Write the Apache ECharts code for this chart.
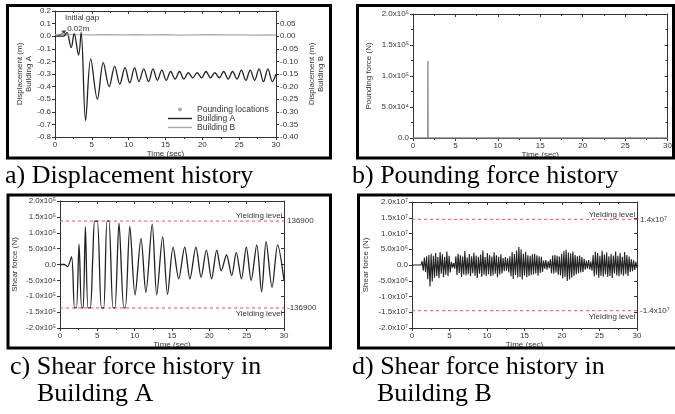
<!DOCTYPE html>
<html>
<head>
<meta charset="utf-8">
<script src="https://cdn.jsdelivr.net/npm/echarts@6/dist/echarts.min.js"></script>
<style>
html, body { margin: 0; padding: 0; background: #fff; }
#main { width: 675px; height: 414px; }
</style>
</head>
<body>
<div id="main"></div>
<script>
// a) displacement history (m)
var dispTime = [0, 1.2, 1.6, 2.2, 2.6, 3.2, 3.55, 4.15, 4.85, 5.75, 6.55, 7.35, 8.1, 8.8, 9.5, 10.15, 10.8, 11.4, 12.05, 12.7,
  13.3, 13.9, 14.5, 15.1, 15.7, 16.3, 16.9, 17.5, 18.1, 18.7, 19.3, 19.9, 20.5, 21.1, 21.7, 22.3, 22.9, 23.5, 24.1, 24.7,
  25.3, 25.9, 26.5, 27.1, 27.7, 28.3, 28.9, 29.5, 30];
var dispA = [0, 0, 0.03, -0.09, 0.02, -0.15, 0.03, -0.67, -0.18, -0.50, -0.21, -0.40, -0.24, -0.38, -0.25, -0.37, -0.25, -0.36, -0.26, -0.36,
  -0.26, -0.35, -0.27, -0.35, -0.28, -0.34, -0.28, -0.34, -0.29, -0.33, -0.29, -0.33, -0.28, -0.33, -0.29, -0.33, -0.28, -0.34, -0.28, -0.34,
  -0.27, -0.35, -0.27, -0.35, -0.26, -0.36, -0.26, -0.36, -0.30];
var dispBTime = [0, 1.5, 3, 5, 7, 9, 11, 13, 15, 17, 19, 21, 23, 25, 27, 29, 30];
var dispB = [0.006, 0.007, 0.006, 0.005, 0.006, 0.005, 0.006, 0.005, 0.006, 0.004, 0.005, 0.006, 0.005, 0.005, 0.004, 0.005, 0.004];
var poundTime = [1.7];
var poundDisp = [0.007];

// b) pounding force history (N)
var forceTime = [0, 1.74, 1.76, 1.78, 30];
var poundForce = [0, 0, 124000, 0, 0];

// c) shear force in building A (N)
var shearATime = [0, 0.6, 1.0, 1.55, 1.95, 2.2, 2.55, 2.9, 3.1, 3.4, 3.75, 4.05, 4.4, 4.65, 5.0, 5.55, 5.85, 6.3, 6.55, 7.1,
  7.35, 7.9, 8.55, 8.75, 9.35, 10.05, 10.85, 11.5, 12.35, 12.95, 13.75, 14.4, 15.15, 15.9, 16.7, 17.4, 18.2, 18.9, 19.6, 20.3,
  21.0, 21.6, 22.3, 23.0, 23.6, 24.3, 24.95, 25.6, 26.35, 27.0, 27.6, 28.4, 29.15, 30];
var shearA = [0, 0, -7000, 25000, -136900, -136900, 64000, -136900, -136900, 119000, -136900, -136900, 28000, 136900, 136900, -136900, -136900, 136900, 136900, -136900,
  -136900, 130000, -136900, -136900, 120000, -96000, 82000, -88000, 127000, -96000, 88000, -94000, 55000, -45000, 55000, -45000, 55000, -40000, 45000, -45000,
  45000, -20000, 30000, -35000, 38000, -45000, 55000, -50000, 62000, -86000, 72000, -72000, 62000, -50000];
var yieldA = 136900;

// d) shear force in building B (x10^6 N), sampled every 0.15 s
var shearBStep = 0.15;
var shearB = [0, 0, 0, 0, 0, 0, 0, 0, 0,
  1.2, -1.8, 2.4, -2.2, 2.8,
  -4.5, 3.2, -6.8, 3.6, -5.2, 2.9, -4.0,
  3.8, -3.6, 2.5, -4.2, 4.1, -2.8, 3.4, -3.9, 2.6, -3.1, 4.3, -3.5, 2.9, -2.4,
  1.0, -0.8, 0.6, -1.2,
  2.8, -3.2, 3.6, -2.5, 3.1, -3.8, 2.7, -3.0, 4.4, -3.3, 2.4, -2.9, 3.5, -3.6, 2.8, -2.6, 3.9, -3.4, 3.0, -4.1,
  2.6, -2.8, 3.3, -3.7, 4.6, -3.1, 2.5, -3.5, 3.8, -2.9, 3.2, -3.6, 2.7, -3.3, 4.0, -2.8, 3.1, -3.9, 2.6, -3.0, 3.4, -2.7,
  2.2, -2.0, 2.5, -1.8, 2.1, -2.4, 2.8,
  -3.6, 4.1, -4.4, 3.5, -3.2, 4.6, -4.0, 5.7, -3.8, 4.9, -4.6, 3.6, -3.3, 4.2, -3.9, 3.1, -3.5, 2.9, -3.2,
  3.4, -3.0, 3.6, -2.7, 3.1, -3.4, 2.8, -2.5, 2.6, -2.2,
  1.4, -1.2, 1.6, -1.5, 1.2, -1.0, 1.8,
  -2.6, 3.0, -2.8, 3.2, -2.4, 2.9, -3.1, 2.7, -3.3,
  3.6, -4.2, 4.4, -3.8, 4.8, -5.1, 4.0, -4.6, 3.7, -4.0, 4.3, -3.5, 3.2, -3.0,
  2.8, -2.6, 3.0, -2.4, 2.5, -2.2, 2.0,
  -1.5, 1.3, -1.2, 1.6, -1.4, 1.1, -1.8,
  3.2, -3.6, 4.2, -3.1, 3.8, -4.0, 2.9, -3.4, 4.5, -3.7, 3.3, -3.0, 4.0, -3.8, 2.8, -3.5, 3.6, -4.1, 3.0, -2.7,
  4.3, -3.3, 2.9, -3.6, 3.8, -3.0, 2.6, -3.4, 4.1, -2.9, 3.2, -3.5, 2.7,
  -2.2, 1.8, -2.0, 1.5, -1.6, 1.0, -1.0];
var yieldB = 14.5;

var sans = 'Liberation Sans, Arial, sans-serif';
var serif = 'Liberation Serif, Times New Roman, serif';
var ink = '#333';
var yieldColor = '#e8506a';
var sup = { '4': '\u2074', '5': '\u2075', '6': '\u2076', '7': '\u2077' };

function sci(v) {
  if (Math.abs(v) < 1e-9) return '0.0';
  var e = Math.floor(Math.log10(Math.abs(v)) + 1e-9);
  var m = v / Math.pow(10, e);
  return m.toFixed(1) + 'x10' + sup[e];
}

function pairs(xs, ys) {
  return xs.map(function (x, i) { return [x, ys[i]]; });
}

function xMain(g) {
  return {
    type: 'value', gridIndex: g, position: 'bottom', min: 0, max: 30, interval: 5,
    axisLine: { show: true, onZero: false, lineStyle: { color: ink, width: 1 } },
    axisTick: { length: 3, lineStyle: { color: ink } },
    minorTick: { show: true, splitNumber: 2, length: 2, lineStyle: { color: ink } },
    splitLine: { show: false },
    axisLabel: { fontSize: 8, color: ink, margin: 4, fontFamily: sans },
    name: 'Time (sec)', nameLocation: 'middle', nameGap: 13,
    nameTextStyle: { fontSize: 8, color: ink, fontFamily: sans }
  };
}
function xMirror(g) {
  return {
    type: 'value', gridIndex: g, position: 'top', min: 0, max: 30, interval: 5,
    axisLine: { show: true, onZero: false, lineStyle: { color: ink } },
    axisTick: { inside: true, length: 3, lineStyle: { color: ink } },
    minorTick: { show: true, splitNumber: 2, length: 2, lineStyle: { color: ink } },
    splitLine: { show: false }, axisLabel: { show: false }
  };
}
function yMain(g, min, max, step, fmt, name, gap, minor) {
  return {
    type: 'value', gridIndex: g, position: 'left', min: min, max: max, interval: step,
    axisLine: { show: true, onZero: false, lineStyle: { color: ink } },
    axisTick: { show: true, length: 3, lineStyle: { color: ink } },
    minorTick: { show: minor, splitNumber: 2, length: 2, lineStyle: { color: ink } },
    splitLine: { show: false },
    axisLabel: { fontSize: 8, color: ink, margin: 4, fontFamily: sans, formatter: fmt },
    name: name, nameLocation: 'middle', nameGap: gap,
    nameTextStyle: { fontSize: 8, color: ink, fontFamily: sans, lineHeight: 9 }
  };
}
function yMirror(g, min, max, step, minor) {
  return {
    type: 'value', gridIndex: g, position: 'right', min: min, max: max, interval: step,
    axisLine: { show: true, onZero: false, lineStyle: { color: ink } },
    axisTick: { show: true, inside: true, length: 3, lineStyle: { color: ink } },
    minorTick: { show: minor, splitNumber: 2, length: 2, lineStyle: { color: ink } },
    splitLine: { show: false }, axisLabel: { show: false }
  };
}

var yRightA = yMain(0, -0.4, 0.1, 0.05, function (v) { return v > 0.07 ? '' : v.toFixed(2); },
  'Displacement (m)\nBuilding B', 31, false);
yRightA.position = 'right';
yRightA.nameRotate = 90;

var labelStyle = { fontSize: 8, color: ink, fontFamily: sans };

// dashed yielding level drawn as a plain two-point line, labels as markPoints at its ends
function yieldSeries(name, xi, yi, level, valueText, above) {
  return {
    name: name, type: 'line', xAxisIndex: xi, yAxisIndex: yi, silent: true,
    data: [[0, level], [30, level]], symbol: 'none',
    lineStyle: { color: yieldColor, type: [3, 3], width: 1 }, z: 1,
    markPoint: {
      silent: true, symbol: 'rect', symbolSize: 0,
      data: [
        { coord: [30, level], label: Object.assign({ show: true, position: 'right', distance: 3, formatter: valueText }, labelStyle) },
        { coord: [29.8, level], label: Object.assign({ show: true, position: [0, 0], align: 'right',
          verticalAlign: above ? 'bottom' : 'top', offset: [0, above ? -1 : 2], formatter: 'Yielding level' }, labelStyle) }
      ]
    }
  };
}

function box(x1, y1, x2, y2) {
  return { type: 'rect', shape: { x: x1, y: y1, width: x2 - x1, height: y2 - y1 },
    style: { fill: 'none', stroke: '#000', lineWidth: 3 }, z: 100 };
}
function caption(x, y, t) {
  return { type: 'text', x: x, y: y, style: { text: t, font: '26px ' + serif, fill: '#000', verticalAlign: 'middle' } };
}

var chart = echarts.init(document.getElementById('main'), null, { renderer: 'canvas' });
chart.setOption({
  animation: false,
  grid: [
    { left: 55, top: 11, width: 221, height: 126 },
    { left: 413, top: 14, width: 255, height: 124 },
    { left: 60, top: 201, width: 224, height: 127 },
    { left: 412, top: 202, width: 225, height: 126 }
  ],
  xAxis: [xMain(0), xMirror(0), xMain(1), xMirror(1), xMain(2), xMirror(2), xMain(3), xMirror(3)],
  yAxis: [
    yMain(0, -0.8, 0.2, 0.1, function (v) { return v.toFixed(1); }, 'Displacement (m)\nBuilding A', 21, false),
    yRightA,
    yMain(1, 0, 200000, 50000, sci, 'Pounding force (N)', 40, true),
    yMirror(1, 0, 200000, 50000, true),
    yMain(2, -200000, 200000, 50000, sci, 'Shear force (N)', 41, false),
    yMirror(2, -200000, 200000, 50000, false),
    yMain(3, -20, 20, 5, function (v) { return sci(v * 1e6); }, 'Shear force (N)', 42, false),
    yMirror(3, -20, 20, 5, false)
  ],
  legend: {
    left: 163, top: 100, orient: 'vertical', itemGap: 0, itemWidth: 24, itemHeight: 4,
    textStyle: { fontSize: 8.5, color: ink, fontFamily: sans },
    data: [
      { name: 'Pounding locations', icon: 'circle' },
      { name: 'Building A', icon: 'path://M0,0L24,0L24,1.4L0,1.4Z' },
      { name: 'Building B', icon: 'path://M0,0L24,0L24,1.4L0,1.4Z' }
    ]
  },
  series: [
    {
      name: 'Building A', type: 'line', xAxisIndex: 0, yAxisIndex: 0, data: pairs(dispTime, dispA),
      smooth: 0.35, symbol: 'none', lineStyle: { color: '#222', width: 1.3 }, itemStyle: { color: '#222' }, z: 3,
      markPoint: {
        silent: true, symbol: 'rect', symbolSize: 0,
        data: [{ coord: [1.35, 0.1], label: { show: true, formatter: 'Initial gap\n 0.02m', position: 'right', distance: 0,
          fontSize: 8, lineHeight: 11, color: ink, fontFamily: sans } }]
      },
      markLine: {
        silent: true, symbol: ['none', 'arrow'], symbolSize: 4,
        lineStyle: { color: ink, width: 0.8, type: 'solid' }, label: { show: false },
        data: [[{ coord: [0.3, -0.005] }, { coord: [1.45, 0.045] }]]
      }
    },
    {
      name: 'Building B', type: 'line', xAxisIndex: 0, yAxisIndex: 1, data: pairs(dispBTime, dispB),
      symbol: 'none', lineStyle: { color: '#aaa', width: 1.2 }, itemStyle: { color: '#aaa' }, z: 2
    },
    {
      name: 'Pounding locations', type: 'scatter', xAxisIndex: 0, yAxisIndex: 1, data: pairs(poundTime, poundDisp),
      symbol: 'circle', symbolSize: 3, itemStyle: { color: '#999' }, z: 4
    },
    {
      name: 'Pounding force', type: 'line', xAxisIndex: 2, yAxisIndex: 2, data: pairs(forceTime, poundForce),
      symbol: 'none', lineStyle: { color: '#888', width: 1.3 }
    },
    {
      name: 'Shear A', type: 'line', xAxisIndex: 4, yAxisIndex: 4, data: pairs(shearATime, shearA),
      smooth: 0.3, symbol: 'none', lineStyle: { color: '#222', width: 1.3 }, z: 3
    },
    yieldSeries('Yield A+', 4, 4, yieldA, '136900', true),
    yieldSeries('Yield A-', 4, 4, -yieldA, '-136900', false),
    {
      name: 'Shear B', type: 'line', xAxisIndex: 6, yAxisIndex: 6,
      data: shearB.map(function (v, i) { return [i * shearBStep, v]; }),
      symbol: 'none', lineStyle: { color: '#222', width: 1.1 }, z: 3
    },
    yieldSeries('Yield B+', 6, 6, yieldB, '1.4x10\u2077', true),
    yieldSeries('Yield B-', 6, 6, -yieldB, '-1.4x10\u2077', false)
  ],
  graphic: [
    box(7.5, 5.5, 330.5, 158),
    box(357.5, 5.5, 673.5, 158),
    box(8, 195, 330.5, 348),
    box(358.5, 195, 685, 348),
    caption(5, 176, 'a) Displacement history'),
    caption(352, 176, 'b) Pounding force history'),
    caption(10, 367, 'c) Shear force history in'),
    caption(37, 394, 'Building A'),
    caption(352, 367, 'd) Shear force history in'),
    caption(377, 394, 'Building B')
  ]
});
</script>
</body>
</html>
